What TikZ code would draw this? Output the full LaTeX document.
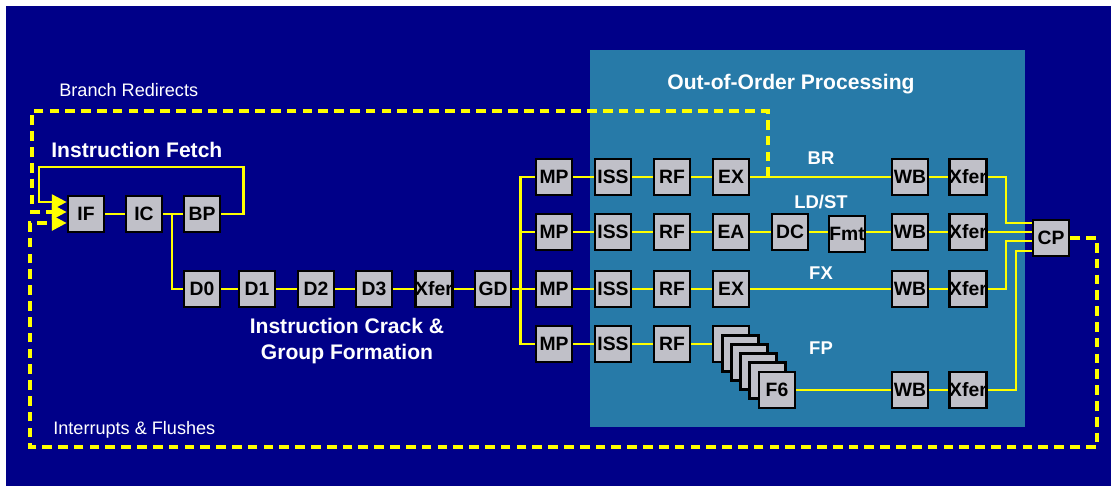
\documentclass[tikz,border=0pt]{standalone}
\usepackage{fontspec}
\setmainfont{Liberation Sans}
\usetikzlibrary{arrows.meta}
\definecolor{bgblue}{RGB}{0,0,136}
\definecolor{oooblue}{RGB}{39,122,168}
\definecolor{stagegray}{RGB}{192,192,200}
\definecolor{busyellow}{RGB}{255,255,0}

\begin{document}
\begin{tikzpicture}[x=0.02cm, y=-0.02cm, >={Triangle[length=8.5pt, width=8.5pt]},
    stage/.style={
        draw=black, line width=1.5pt, fill=stagegray,
        minimum size=0.72cm, inner sep=0pt,
        font=\fontsize{11}{12}\selectfont\bfseries
    },
    wire/.style={-, busyellow, line width=1.5pt},
    signal/.style={->, busyellow, line width=1.5pt},
    redirect/.style={->, busyellow, line width=1.8pt, dash pattern=on 5.5pt off 3.5pt},
    grouplabel/.style={text=white, inner sep=0pt, font=\fontsize{12}{14.5}\selectfont\bfseries},
    pipelabel/.style={text=white, font=\fontsize{10.5}{12}\selectfont\bfseries},
    tlabel/.style={text=white, inner sep=0pt, font=\fontsize{10.3}{12}\selectfont},
]
\useasboundingbox (0,0) rectangle (1111,486);

% --- Coordenadas ---
\def\yfetch{214}
\def\yA{177}
\def\yB{232}
\def\yC{289}
\def\yD{344}
\def\yDw{390}

\def\xmp{554}
\def\xiss{613}
\def\xrf{672}
\def\xex{731}
\def\xdc{790}
\def\xfmt{847}
\def\xwb{910}
\def\xxf{968}
\def\xcp{1051}

% --- Fondo ---
\fill[white] (0,0) rectangle (1111,486);
\fill[bgblue] (6,6) rectangle (1111,486);
\fill[oooblue] (590,50) rectangle (1025,427);

% --- Textos ---
\node[tlabel, anchor=west] (lbl_redir) at (59,90) {Branch Redirects};
\node[tlabel, anchor=west] (lbl_flush) at (53,430) {Interrupts \& Flushes};
\node[grouplabel, anchor=west] (lbl_fetch) at (51,150) {Instruction Fetch};
\node[grouplabel, align=center] (lbl_crack) at (347,341) {Instruction Crack \&\\Group Formation};
\node[grouplabel] (lbl_ooo) at (791,84) {Out-of-Order Processing};
\node[pipelabel] (lbl_br) at (821,158) {BR};
\node[pipelabel] (lbl_ldst) at (821,202) {LD/ST};
\node[pipelabel] (lbl_fx) at (821,273) {FX};
\node[pipelabel] (lbl_fp) at (821,348) {FP};

% --- Busqueda ---
\node[stage] (IF) at (86, \yfetch) {IF};
\node[stage] (IC) at (144, \yfetch) {IC};
\node[stage] (BP) at (202, \yfetch) {BP};

% --- Decodificacion ---
\node[stage] (D0) at (202, \yC) {D0};
\node[stage] (D1) at (257, \yC) {D1};
\node[stage] (D2) at (316, \yC) {D2};
\node[stage] (D3) at (374, \yC) {D3};
\node[stage] (XfD) at (434, \yC) {Xfer};
\node[stage] (GD) at (493, \yC) {GD};

% --- Tuberias fuera de orden ---
\node[stage] (MP1) at (\xmp, \yA) {MP};
\node[stage] (ISS1) at (\xiss, \yA) {ISS};
\node[stage] (RF1) at (\xrf, \yA) {RF};
\node[stage] (EX1) at (\xex, \yA) {EX};
\node[stage] (WB1) at (\xwb, \yA) {WB};
\node[stage] (Xf1) at (\xxf, \yA) {Xfer};

\node[stage] (MP2) at (\xmp, \yB) {MP};
\node[stage] (ISS2) at (\xiss, \yB) {ISS};
\node[stage] (RF2) at (\xrf, \yB) {RF};
\node[stage] (EA2) at (\xex, \yB) {EA};
\node[stage] (DC2) at (\xdc, \yB) {DC};
\node[stage] (Fmt2) at (\xfmt, 234) {Fmt};
\node[stage] (WB2) at (\xwb, \yB) {WB};
\node[stage] (Xf2) at (\xxf, \yB) {Xfer};

\node[stage] (MP3) at (\xmp, \yC) {MP};
\node[stage] (ISS3) at (\xiss, \yC) {ISS};
\node[stage] (RF3) at (\xrf, \yC) {RF};
\node[stage] (EX3) at (\xex, \yC) {EX};
\node[stage] (WB3) at (\xwb, \yC) {WB};
\node[stage] (Xf3) at (\xxf, \yC) {Xfer};

\node[stage] (MP4) at (\xmp, \yD) {MP};
\node[stage] (ISS4) at (\xiss, \yD) {ISS};
\node[stage] (RF4) at (\xrf, \yD) {RF};
\node[stage] (F1) at (731, \yD) {};
\node[stage] (F2) at (740.2, 353.2) {};
\node[stage] (F3) at (749.4, 362.4) {};
\node[stage] (F4) at (758.6, 371.6) {};
\node[stage] (F5) at (767.8, 380.8) {};
\node[stage] (F6) at (777, \yDw) {F6};
\node[stage] (WB4) at (\xwb, \yDw) {WB};
\node[stage] (Xf4) at (\xxf, \yDw) {Xfer};

\node[stage] (CP) at (\xcp, 238) {CP};

% --- Cables ---
\coordinate (ic_tap) at (172, \yfetch);
\coordinate (fetch_tl) at (39, 167);
\coordinate (br_tap) at (768, \yA);
\coordinate (redir_tl) at (32, 111);
\coordinate (flush_br) at (1097, 447);
\coordinate (flush_bl) at (30, 447);

\draw[wire] (IF.east) -- (IC.west);
\draw[wire] (IC.east) -- (BP.west);
\draw[wire] (ic_tap) |- (D0.west);
\draw[wire] (D0.east) -- (D1.west);
\draw[wire] (D1.east) -- (D2.west);
\draw[wire] (D2.east) -- (D3.west);
\draw[wire] (D3.east) -- (XfD.west);
\draw[wire] (XfD.east) -- (GD.west);
\draw[wire] (GD.east) -- (MP3.west);
\draw[wire] (MP1.west) -- ++(-14,0) |- (MP4.west);
\draw[wire] (MP2.west) -- ++(-14,0);

\draw[wire] (MP1.east) -- (ISS1.west);
\draw[wire] (ISS1.east) -- (RF1.west);
\draw[wire] (RF1.east) -- (EX1.west);
\draw[wire] (EX1.east) -- (WB1.west);
\draw[wire] (WB1.east) -- (Xf1.west);

\draw[wire] (MP2.east) -- (ISS2.west);
\draw[wire] (ISS2.east) -- (RF2.west);
\draw[wire] (RF2.east) -- (EA2.west);
\draw[wire] (EA2.east) -- (DC2.west);
\draw[wire] (DC2.east) -- (Fmt2.west |- DC2.east);
\draw[wire] (Fmt2.east |- WB2.west) -- (WB2.west);
\draw[wire] (WB2.east) -- (Xf2.west);

\draw[wire] (MP3.east) -- (ISS3.west);
\draw[wire] (ISS3.east) -- (RF3.west);
\draw[wire] (RF3.east) -- (EX3.west);
\draw[wire] (EX3.east) -- (WB3.west);
\draw[wire] (WB3.east) -- (Xf3.west);

\draw[wire] (MP4.east) -- (ISS4.west);
\draw[wire] (ISS4.east) -- (RF4.west);
\draw[wire] (RF4.east) -- (F1.west);
\draw[wire] (F6.east) -- (WB4.west);
\draw[wire] (WB4.east) -- (Xf4.west);

% --- Hacia CP ---
\draw[wire] (Xf1.east) -- ++(18,0) |- ([yshift=0.3cm]CP.west);
\draw[wire] (Xf2.east) -- (CP.west |- Xf2.east);
\draw[wire] (Xf3.east) -- ++(18,0) |- ([yshift=-0.06cm]CP.west);
\draw[wire] (Xf4.east) -- ++(28,0) |- ([yshift=-0.26cm]CP.west);

% --- Lazos de realimentacion ---
\draw[signal] (BP.east) -- ++(22,0) |- (fetch_tl) |- ([yshift=0.24cm]IF.west);
\draw[redirect] (br_tap) |- (redir_tl) |- ([yshift=0.04cm]IF.west);
\draw[redirect] (CP.east) -| (flush_br) -- (flush_bl) |- ([yshift=-0.18cm]IF.west);

\end{tikzpicture}
\end{document}
